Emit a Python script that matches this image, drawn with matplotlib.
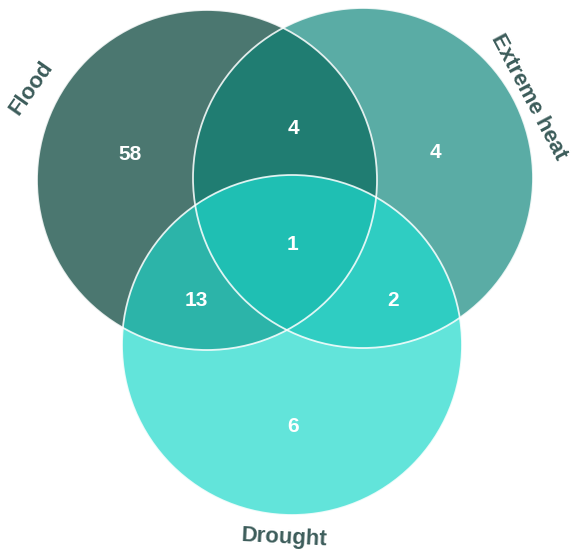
import numpy as np
import matplotlib.pyplot as plt
from matplotlib.patches import Circle, Polygon

# set names and region counts (Venn of three hazards)
set_names = ["Flood", "Extreme heat", "Drought"]
only_counts = [58, 4, 6]          # flood only, heat only, drought only
pair_counts = [4, 13, 2]          # flood&heat, flood&drought, heat&drought
all_count = 1

# colours
only_colors = ["#4b7770", "#5aaca5", "#62e4da"]
pair_colors = ["#207d72", "#2cb4a9", "#2fcdc2"]
all_color = "#1fbfb3"
label_color = "#3c5c5a"

# circle geometry in pixel-like units (y down)
centers = [(207, 180), (363, 178), (292, 345)]
radius = 170

plt.rcParams["font.family"] = ["Liberation Sans", "DejaVu Sans"]

fig = plt.figure(figsize=(5.73, 5.53), dpi=100)
ax = fig.add_axes([0, 0, 1, 1])
ax.set_xlim(0, 573)
ax.set_ylim(553, 0)
ax.set_aspect("equal")
ax.axis("off")


def circle(i, **kw):
    return Circle(centers[i], radius, transform=ax.transData, **kw)


# single circles
for i in range(3):
    ax.add_patch(circle(i, facecolor=only_colors[i], edgecolor="none"))

# pairwise overlaps: draw one circle clipped by the other
pairs = [(1, 0), (2, 0), (2, 1)]
for (a, b), col in zip(pairs, pair_colors):
    p = circle(a, facecolor=col, edgecolor="none")
    ax.add_patch(p)
    p.set_clip_path(circle(b))

# triple overlap: lens of flood & heat as polygon, clipped by drought
t = np.linspace(0, 2 * np.pi, 2000)
pts = []
for i in (0, 1):
    cx, cy = centers[i]
    xs = cx + radius * np.cos(t)
    ys = cy + radius * np.sin(t)
    j = 1 - i
    inside = (xs - centers[j][0]) ** 2 + (ys - centers[j][1]) ** 2 <= radius ** 2
    pts.append(np.column_stack([xs[inside], ys[inside]]))
pts = np.vstack(pts)
c = pts.mean(axis=0)
order = np.argsort(np.arctan2(pts[:, 1] - c[1], pts[:, 0] - c[0]))
lens = Polygon(pts[order], closed=True, facecolor=all_color, edgecolor="none")
ax.add_patch(lens)
lens.set_clip_path(circle(2))

# thin white outlines
for i in range(3):
    ax.add_patch(circle(i, fill=False, edgecolor="white", lw=1.3, alpha=0.85))

# region numbers
num_kw = dict(color="white", fontsize=15, fontweight="bold", ha="center", va="center")
ax.text(130, 155, str(only_counts[0]), **num_kw)
ax.text(435, 152, str(only_counts[1]), **num_kw)
ax.text(293, 426, str(only_counts[2]), **num_kw)
ax.text(293, 128, str(pair_counts[0]), **num_kw)
ax.text(196, 300, str(pair_counts[1]), **num_kw)
ax.text(393, 300, str(pair_counts[2]), **num_kw)
ax.text(293, 245, str(all_count), **num_kw)

# set labels
lab_kw = dict(color=label_color, fontsize=16, fontweight="bold", ha="center", va="center")
ax.text(31, 88, set_names[0], rotation=55, **lab_kw)
ax.text(529, 97, set_names[1], rotation=-62, **lab_kw)
ax.text(284, 538, set_names[2], rotation=-3, **lab_kw)

fig.savefig("out.png", dpi=100)
